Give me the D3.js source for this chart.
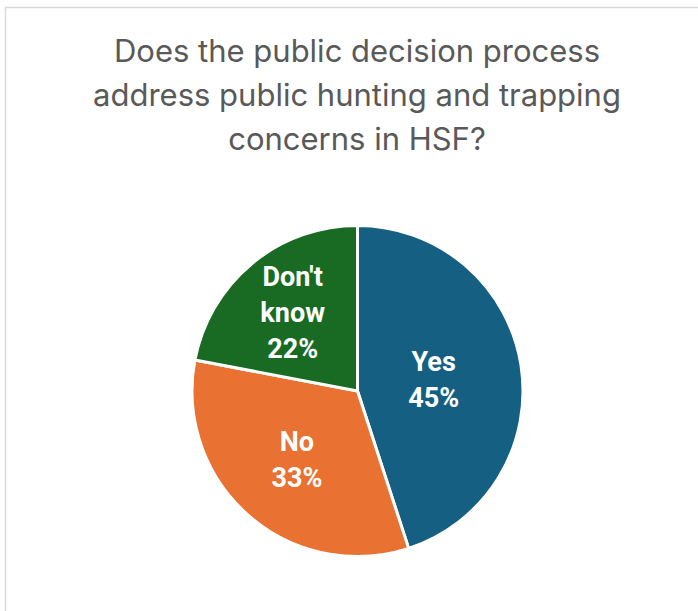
<!DOCTYPE html>
<html>
<head>
<meta charset="utf-8">
<script src="https://cdn.jsdelivr.net/npm/d3@7"></script>
<style>
  html, body { margin: 0; padding: 0; background: #fff; }
  svg { display: block; }
</style>
</head>
<body>
<svg id="chart" width="698" height="611"></svg>
<script>
// Survey answers and their shares (percent)
const categories = ["Yes", "No", "Don't know"];
const shares = [45, 33, 22];
const sliceColors = ["#156082", "#E97132", "#196B24"];
const titleLines = [
  "Does the public decision process",
  "address public hunting and trapping",
  "concerns in HSF?"
];

const width = 698, height = 611;
const svg = d3.select("#chart");

// chart frame
svg.append("rect")
  .attr("x", 5.5).attr("y", 7.5)
  .attr("width", width + 10).attr("height", height + 10)
  .attr("fill", "#fff")
  .attr("stroke", "#d9d9d9")
  .attr("stroke-width", 1.5);

// title
const title = svg.append("text")
  .attr("text-anchor", "middle")
  .attr("font-family", "Inter, 'Noto Sans', sans-serif")
  .attr("font-size", 31)
  .attr("fill", "#595959");
titleLines.forEach((line, i) => {
  title.append("tspan")
    .attr("x", 357)
    .attr("y", 62 + i * 44)
    .text(line);
});

// pie
const cx = 357.5, cy = 391, radius = 165.5;
const g = svg.append("g").attr("transform", `translate(${cx},${cy})`);

const data = categories.map((c, i) => ({ category: c, value: shares[i], color: sliceColors[i] }));
const pie = d3.pie().value(d => d.value).sort(null);
const arcs = pie(data);

const arc = d3.arc().innerRadius(0).outerRadius(radius);

g.selectAll("path.slice")
  .data(arcs)
  .join("path")
  .attr("class", "slice")
  .attr("d", arc)
  .attr("fill", d => d.data.color)
  .attr("stroke", "#fff")
  .attr("stroke-width", 3)
  .attr("stroke-linejoin", "round");

// label anchor: area centroid of each sector
function sectorCentroid(d) {
  const half = (d.endAngle - d.startAngle) / 2;
  const mid = d.startAngle + half;
  const dist = 2 * radius * Math.sin(half) / (3 * half);
  return [dist * Math.sin(mid), -dist * Math.cos(mid)];
}

// in-slice labels: category name (wrapped) and percentage
const fontSize = 27, lineH = 36;
const labels = g.selectAll("text.label")
  .data(arcs)
  .join("text")
  .attr("class", "label")
  .attr("text-anchor", "middle")
  .attr("font-family", "Roboto, 'Liberation Sans', sans-serif")
  .attr("font-weight", "bold")
  .attr("font-size", fontSize)
  .attr("fill", "#fff");

labels.each(function (d) {
  const [x, y] = sectorCentroid(d);
  const lines = d.data.category === "Don't know"
    ? ["Don't", "know"] : [d.data.category];
  lines.push(d3.format(".0%")(d.data.value / 100));
  const first = y - (lines.length - 1) * lineH / 2 + fontSize * 0.711 / 2;
  const t = d3.select(this);
  lines.forEach((ln, i) => {
    t.append("tspan").attr("x", x).attr("y", first + i * lineH).text(ln);
  });
});
</script>
</body>
</html>
